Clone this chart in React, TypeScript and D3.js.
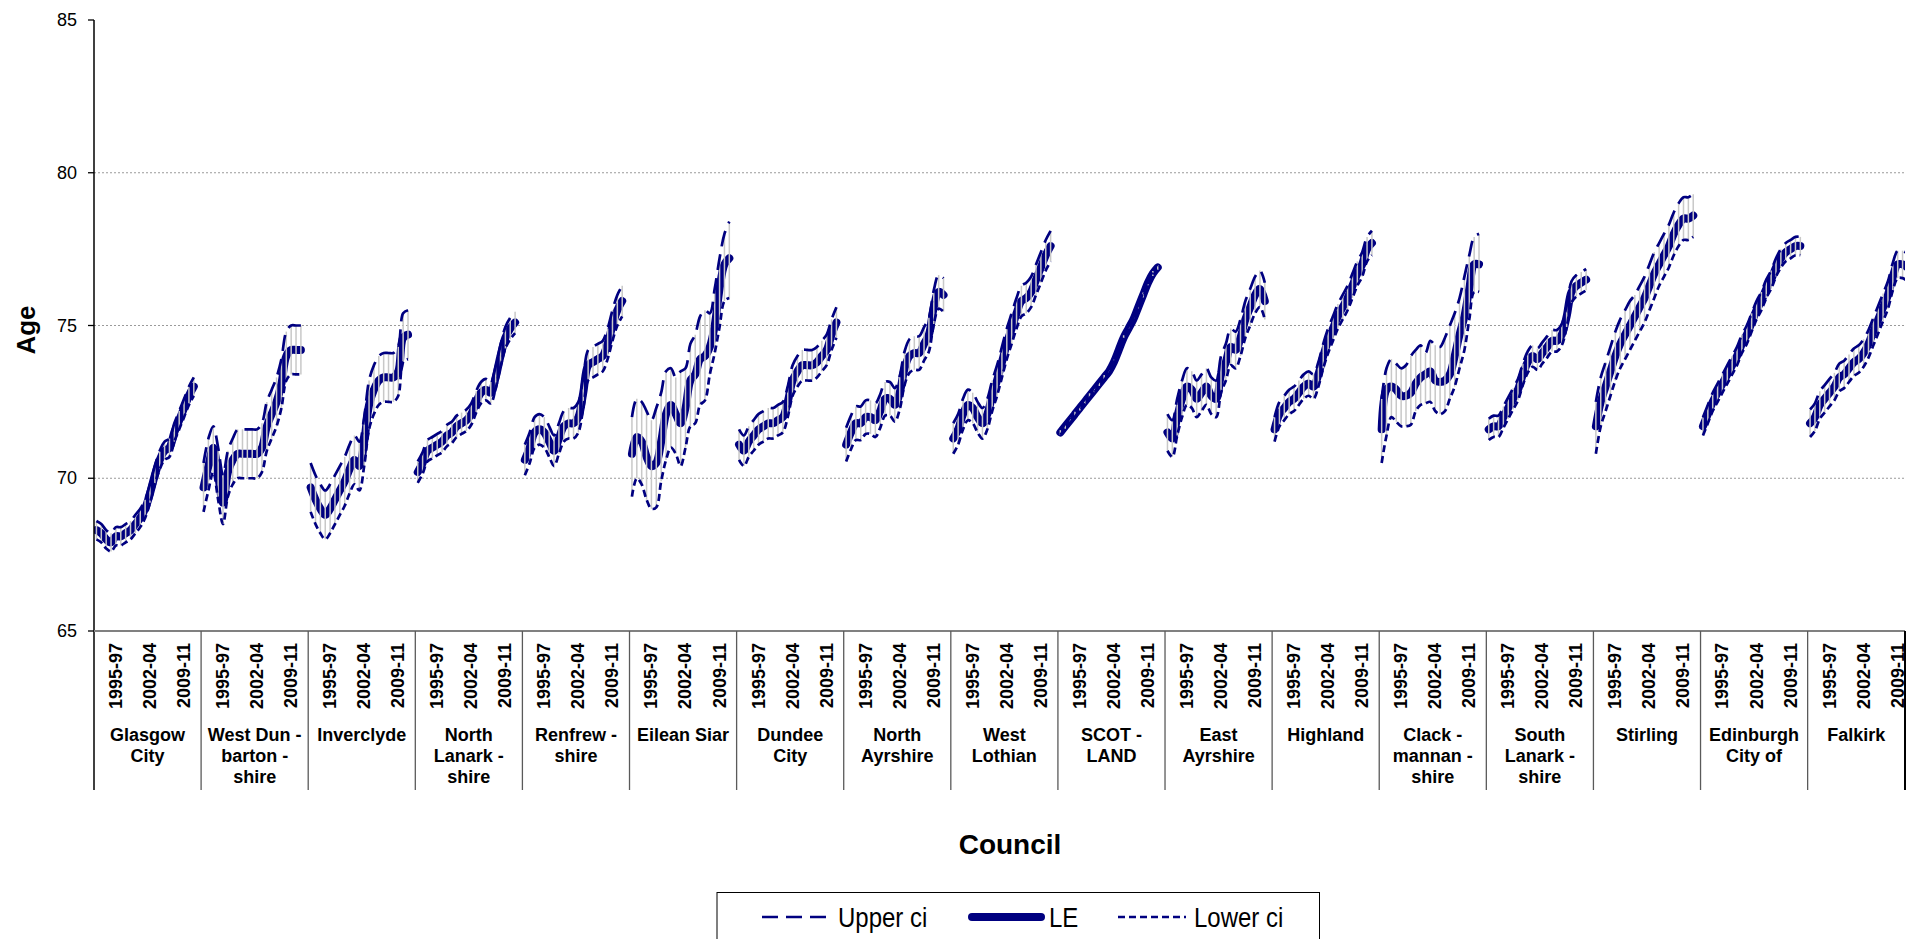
import * as d3 from "d3"

// three-year rolling periods shown for every council
const periods = [
  "1991-93", "1992-94", "1993-95", "1994-96", "1995-97", "1996-98", "1997-99",
  "1998-00", "1999-01", "2000-02", "2001-03", "2002-04", "2003-05", "2004-06",
  "2005-07", "2006-08", "2007-09", "2008-10", "2009-11", "2010-12", "2011-13",
]
const tickPeriods = ["1995-97", "2002-04", "2009-11"]
const yTicks = [65, 70, 75, 80, 85]

const leGlasgow = [68.3, 68.2, 68.0, 67.9, 68.1, 68.1, 68.2, 68.3, 68.5, 68.7, 69.0, 69.5, 70.1, 70.6, 70.9, 71.0, 71.5, 71.9, 72.3, 72.7, 73.0]
const upGlasgow = [68.6, 68.5, 68.3, 68.2, 68.4, 68.4, 68.5, 68.6, 68.8, 69.0, 69.3, 69.8, 70.4, 70.9, 71.2, 71.3, 71.8, 72.2, 72.6, 73.0, 73.3]
const loGlasgow = [68.0, 67.9, 67.7, 67.6, 67.8, 67.8, 67.9, 68.0, 68.2, 68.4, 68.7, 69.2, 69.8, 70.3, 70.6, 70.7, 71.2, 71.6, 72.0, 72.4, 72.7]

const leWestDun = [69.7, 70.4, 71.0, 70.1, 69.2, 70.2, 70.6, 70.8, 70.8, 70.8, 70.8, 70.8, 71.0, 71.7, 72.1, 72.5, 73.1, 74.0, 74.2, 74.2, 74.2]
const upWestDun = [70.5, 71.3, 71.7, 71.0, 70.1, 70.9, 71.3, 71.6, 71.6, 71.6, 71.6, 71.6, 71.8, 72.5, 72.9, 73.3, 73.9, 74.8, 75.0, 75.0, 75.0]
const loWestDun = [68.9, 69.6, 70.2, 69.3, 68.5, 69.4, 69.8, 70.0, 70.0, 70.0, 70.0, 70.0, 70.2, 70.9, 71.3, 71.7, 72.3, 73.2, 73.4, 73.4, 73.4]

const leInverclyde = [69.7, 69.3, 69.0, 68.8, 69.0, 69.3, 69.6, 69.9, 70.3, 70.6, 70.4, 71.2, 72.4, 72.9, 73.2, 73.3, 73.3, 73.3, 73.5, 74.6, 74.7]
const upInverclyde = [70.5, 70.1, 69.8, 69.6, 69.8, 70.1, 70.4, 70.7, 71.1, 71.4, 71.2, 72.0, 73.2, 73.7, 74.0, 74.1, 74.1, 74.1, 74.3, 75.4, 75.5]
const loInverclyde = [68.9, 68.5, 68.2, 68.0, 68.2, 68.5, 68.8, 69.1, 69.5, 69.8, 69.6, 70.4, 71.6, 72.1, 72.4, 72.5, 72.5, 72.5, 72.7, 73.8, 73.9]

const leNLanark = [70.2, 70.5, 70.9, 71.0, 71.1, 71.2, 71.4, 71.5, 71.7, 71.8, 71.9, 72.1, 72.5, 72.8, 72.9, 72.8, 73.3, 74.0, 74.6, 74.9, 75.1]
const upNLanark = [70.55, 70.85, 71.25, 71.35, 71.45, 71.55, 71.75, 71.85, 72.05, 72.15, 72.25, 72.45, 72.85, 73.15, 73.25, 73.15, 73.65, 74.35, 74.95, 75.25, 75.45]
const loNLanark = [69.85, 70.15, 70.55, 70.65, 70.75, 70.85, 71.05, 71.15, 71.35, 71.45, 71.55, 71.75, 72.15, 72.45, 72.55, 72.45, 72.95, 73.65, 74.25, 74.55, 74.75]

const leRenfrew = [70.6, 71.0, 71.5, 71.6, 71.5, 71.2, 70.9, 71.3, 71.7, 71.8, 71.8, 72.0, 72.8, 73.7, 73.8, 73.9, 74.0, 74.4, 75.0, 75.5, 75.8]
const upRenfrew = [71.1, 71.5, 72.0, 72.1, 72.0, 71.7, 71.4, 71.8, 72.2, 72.3, 72.3, 72.5, 73.3, 74.2, 74.3, 74.4, 74.5, 74.9, 75.5, 76.0, 76.3]
const loRenfrew = [70.1, 70.5, 71.0, 71.1, 71.0, 70.7, 70.4, 70.8, 71.2, 71.3, 71.3, 71.5, 72.3, 73.2, 73.3, 73.4, 73.5, 73.9, 74.5, 75.0, 75.3]

const leEilean = [70.8, 71.35, 71.2, 70.7, 70.4, 70.5, 71.2, 72.1, 72.4, 72.1, 71.8, 72.3, 73.2, 73.4, 73.9, 74.0, 74.3, 75.0, 76.2, 77.0, 77.2]
const upEilean = [72.0, 72.6, 72.5, 72.2, 71.9, 72.3, 72.8, 73.5, 73.6, 73.3, 73.5, 73.6, 74.4, 74.7, 75.3, 75.5, 75.4, 76.2, 77.2, 78.0, 78.4]
const loEilean = [69.4, 70.0, 69.8, 69.3, 69.0, 69.05, 69.9, 70.6, 71.0, 70.8, 70.4, 71.0, 71.7, 71.8, 72.4, 72.55, 73.4, 74.1, 74.95, 75.8, 75.9]

const leDundee = [71.1, 70.9, 71.2, 71.4, 71.6, 71.7, 71.8, 71.8, 71.9, 72.0, 72.5, 73.2, 73.5, 73.7, 73.7, 73.7, 73.8, 74.0, 74.2, 74.7, 75.1]
const upDundee = [71.6, 71.4, 71.7, 71.9, 72.1, 72.2, 72.3, 72.3, 72.4, 72.5, 73.0, 73.7, 74.0, 74.2, 74.2, 74.2, 74.3, 74.5, 74.7, 75.2, 75.6]
const loDundee = [70.6, 70.4, 70.7, 70.9, 71.1, 71.2, 71.3, 71.3, 71.4, 71.5, 72.0, 72.7, 73.0, 73.2, 73.2, 73.2, 73.3, 73.5, 73.7, 74.2, 74.6]

const leNAyr = [71.1, 71.5, 71.8, 71.8, 72.0, 72.0, 71.9, 72.2, 72.6, 72.6, 72.4, 72.8, 73.6, 74.0, 74.1, 74.1, 74.4, 74.7, 75.6, 76.1, 76.0]
const upNAyr = [71.65, 72.05, 72.35, 72.35, 72.55, 72.55, 72.45, 72.75, 73.15, 73.15, 72.95, 73.35, 74.15, 74.55, 74.65, 74.65, 74.95, 75.25, 76.15, 76.65, 76.55]
const loNAyr = [70.55, 70.95, 71.25, 71.25, 71.45, 71.45, 71.35, 71.65, 72.05, 72.05, 71.85, 72.25, 73.05, 73.45, 73.55, 73.55, 73.85, 74.15, 75.05, 75.55, 75.45]

const leWLothian = [71.3, 71.6, 72.1, 72.4, 72.3, 72.0, 71.8, 72.1, 72.7, 73.2, 73.8, 74.4, 74.9, 75.4, 75.8, 75.9, 76.1, 76.5, 76.9, 77.3, 77.6]
const upWLothian = [71.8, 72.1, 72.6, 72.9, 72.8, 72.5, 72.3, 72.6, 73.2, 73.7, 74.3, 74.9, 75.4, 75.9, 76.3, 76.4, 76.6, 77.0, 77.4, 77.8, 78.1]
const loWLothian = [70.8, 71.1, 71.6, 71.9, 71.8, 71.5, 71.3, 71.6, 72.2, 72.7, 73.3, 73.9, 74.4, 74.9, 75.3, 75.4, 75.6, 76.0, 76.4, 76.8, 77.1]

const leScotland = [71.5, 71.7, 71.9, 72.1, 72.3, 72.5, 72.7, 72.9, 73.1, 73.3, 73.5, 73.8, 74.2, 74.6, 74.9, 75.2, 75.6, 76.0, 76.4, 76.7, 76.9]
const upScotland = [71.58, 71.78, 71.98, 72.18, 72.38, 72.58, 72.78, 72.98, 73.18, 73.38, 73.58, 73.88, 74.28, 74.68, 74.98, 75.28, 75.68, 76.08, 76.48, 76.78, 76.98]
const loScotland = [71.42, 71.62, 71.82, 72.02, 72.22, 72.42, 72.62, 72.82, 73.02, 73.22, 73.42, 73.72, 74.12, 74.52, 74.82, 75.12, 75.52, 75.92, 76.32, 76.62, 76.82]

const leEAyr = [71.5, 71.3, 72.0, 72.6, 73.0, 72.9, 72.6, 72.8, 73.0, 72.7, 72.6, 73.4, 73.8, 74.3, 74.2, 74.6, 75.2, 75.6, 76.0, 76.2, 75.8]
const upEAyr = [72.1, 71.9, 72.6, 73.2, 73.6, 73.5, 73.2, 73.4, 73.6, 73.3, 73.2, 74.0, 74.4, 74.9, 74.8, 75.2, 75.8, 76.2, 76.6, 76.8, 76.4]
const loEAyr = [70.9, 70.7, 71.4, 72.0, 72.4, 72.3, 72.0, 72.2, 72.4, 72.1, 72.0, 72.8, 73.2, 73.7, 73.6, 74.0, 74.6, 75.0, 75.4, 75.6, 75.2]

const leHighland = [71.6, 72.1, 72.3, 72.5, 72.6, 72.8, 73.0, 73.1, 73.0, 73.4, 74.0, 74.5, 74.9, 75.3, 75.6, 75.9, 76.3, 76.7, 77.0, 77.5, 77.7]
const upHighland = [72.0, 72.5, 72.7, 72.9, 73.0, 73.2, 73.4, 73.5, 73.4, 73.8, 74.4, 74.9, 75.3, 75.7, 76.0, 76.3, 76.7, 77.1, 77.4, 77.9, 78.1]
const loHighland = [71.2, 71.7, 71.9, 72.1, 72.2, 72.4, 72.6, 72.7, 72.6, 73.0, 73.6, 74.1, 74.5, 74.9, 75.2, 75.5, 75.9, 76.3, 76.6, 77.1, 77.3]

const leClack = [71.6, 72.9, 73.0, 72.9, 72.7, 72.7, 72.8, 73.1, 73.3, 73.4, 73.5, 73.2, 73.15, 73.2, 73.4, 74.0, 74.7, 75.3, 76.2, 77.0, 77.0]
const upClack = [72.6, 73.6, 73.9, 73.75, 73.6, 73.7, 74.0, 74.2, 74.35, 74.1, 74.5, 74.35, 74.3, 74.6, 75.0, 75.4, 75.9, 76.6, 77.3, 77.9, 78.0]
const loClack = [70.5, 71.4, 72.0, 71.85, 71.7, 71.7, 71.75, 72.2, 72.4, 72.45, 72.5, 72.2, 72.1, 72.2, 72.6, 73.0, 73.6, 74.2, 75.2, 76.1, 76.1]

const leSLanark = [71.6, 71.7, 71.7, 72.0, 72.3, 72.6, 72.9, 73.4, 73.8, 74.0, 73.9, 74.1, 74.3, 74.5, 74.5, 74.7, 75.3, 76.1, 76.3, 76.4, 76.5]
const upSLanark = [71.95, 72.05, 72.05, 72.35, 72.65, 72.95, 73.25, 73.75, 74.15, 74.35, 74.25, 74.45, 74.65, 74.85, 74.85, 75.05, 75.65, 76.45, 76.65, 76.75, 76.85]
const loSLanark = [71.25, 71.35, 71.35, 71.65, 71.95, 72.25, 72.55, 73.05, 73.45, 73.65, 73.55, 73.75, 73.95, 74.15, 74.15, 74.35, 74.95, 75.75, 75.95, 76.05, 76.15]

const leStirling = [71.7, 72.5, 73.0, 73.5, 74.0, 74.4, 74.7, 75.0, 75.3, 75.6, 75.9, 76.3, 76.7, 77.0, 77.3, 77.6, 78.0, 78.3, 78.5, 78.5, 78.6]
const upStirling = [72.5, 73.3, 73.8, 74.3, 74.8, 75.2, 75.5, 75.8, 76.0, 76.3, 76.6, 77.0, 77.4, 77.7, 78.0, 78.3, 78.7, 79.0, 79.2, 79.2, 79.3]
const loStirling = [70.8, 71.7, 72.2, 72.7, 73.2, 73.6, 73.9, 74.2, 74.5, 74.8, 75.1, 75.5, 75.9, 76.3, 76.6, 76.9, 77.3, 77.6, 77.8, 77.8, 77.9]

const leEdinburgh = [71.7, 72.1, 72.5, 72.8, 73.1, 73.4, 73.7, 74.0, 74.4, 74.7, 75.1, 75.5, 75.8, 76.2, 76.5, 76.9, 77.2, 77.4, 77.5, 77.6, 77.6]
const upEdinburgh = [72.0, 72.4, 72.8, 73.1, 73.4, 73.7, 74.0, 74.3, 74.7, 75.0, 75.4, 75.8, 76.1, 76.5, 76.8, 77.2, 77.5, 77.7, 77.8, 77.9, 77.9]
const loEdinburgh = [71.4, 71.8, 72.2, 72.5, 72.8, 73.1, 73.4, 73.7, 74.1, 74.4, 74.8, 75.2, 75.5, 75.9, 76.2, 76.6, 76.9, 77.1, 77.2, 77.3, 77.3]

const leFalkirk = [71.8, 72.0, 72.4, 72.6, 72.8, 73.0, 73.3, 73.4, 73.6, 73.8, 73.9, 74.1, 74.4, 74.8, 75.2, 75.6, 76.0, 76.6, 77.0, 77.0, 76.9]
const upFalkirk = [72.25, 72.45, 72.85, 73.05, 73.25, 73.45, 73.75, 73.85, 74.05, 74.25, 74.35, 74.55, 74.85, 75.25, 75.65, 76.05, 76.45, 77.05, 77.45, 77.45, 77.35]
const loFalkirk = [71.35, 71.55, 71.95, 72.15, 72.35, 72.55, 72.85, 72.95, 73.15, 73.35, 73.45, 73.65, 73.95, 74.35, 74.75, 75.15, 75.55, 76.15, 76.55, 76.55, 76.45]

const councils = [
  { label: ["Glasgow", "City"], le: leGlasgow, upper: upGlasgow, lower: loGlasgow },
  { label: ["West Dun -", "barton -", "shire"], le: leWestDun, upper: upWestDun, lower: loWestDun },
  { label: ["Inverclyde"], le: leInverclyde, upper: upInverclyde, lower: loInverclyde },
  { label: ["North", "Lanark -", "shire"], le: leNLanark, upper: upNLanark, lower: loNLanark },
  { label: ["Renfrew -", "shire"], le: leRenfrew, upper: upRenfrew, lower: loRenfrew },
  { label: ["Eilean Siar"], le: leEilean, upper: upEilean, lower: loEilean },
  { label: ["Dundee", "City"], le: leDundee, upper: upDundee, lower: loDundee },
  { label: ["North", "Ayrshire"], le: leNAyr, upper: upNAyr, lower: loNAyr },
  { label: ["West", "Lothian"], le: leWLothian, upper: upWLothian, lower: loWLothian },
  { label: ["SCOT -", "LAND"], le: leScotland, upper: upScotland, lower: loScotland },
  { label: ["East", "Ayrshire"], le: leEAyr, upper: upEAyr, lower: loEAyr },
  { label: ["Highland"], le: leHighland, upper: upHighland, lower: loHighland },
  { label: ["Clack -", "mannan -", "shire"], le: leClack, upper: upClack, lower: loClack },
  { label: ["South", "Lanark -", "shire"], le: leSLanark, upper: upSLanark, lower: loSLanark },
  { label: ["Stirling"], le: leStirling, upper: upStirling, lower: loStirling },
  { label: ["Edinburgh", "City of"], le: leEdinburgh, upper: upEdinburgh, lower: loEdinburgh },
  { label: ["Falkirk"], le: leFalkirk, upper: upFalkirk, lower: loFalkirk },
]

const navy = "#000080"
const font = "'Liberation Sans', Arial, sans-serif"

export default function App() {
  const width = 1907
  const height = 939
  const left = 94
  const right = 1905
  const top = 20
  const bottom = 631

  // one band per period plus one empty band after each council
  const keys = councils.flatMap((c, ci) => [...periods.map((p) => `${ci}|${p}`), `${ci}|gap`])
  const band = (right - left) / (keys.length - 2)
  const x = d3.scaleBand<string>().domain(keys).range([left, left + band * keys.length])
  const y = d3.scaleLinear().domain([65, 85]).range([bottom, top])
  const cx = (ci: number, p: string) => (x(`${ci}|${p}`) ?? 0) + x.bandwidth() / 2

  const makeLine = (ci: number) =>
    d3
      .line<number>()
      .x((_, i) => cx(ci, periods[i]))
      .y((d) => y(d))
      .curve(d3.curveCatmullRom.alpha(0.5))

  return (
    <div style={{ position: "absolute", left: 0, top: 0 }}>
      <svg width={width} height={height} style={{ display: "block", background: "#fff" }} fontFamily={font}>
        <defs>
          <clipPath id="plot">
            <rect x={left} y={0} width={right - left} height={bottom} />
          </clipPath>
          <clipPath id="axis">
            <rect x={0} y={bottom} width={right} height={200} />
          </clipPath>
        </defs>

        {/* gridlines */}
        {yTicks
          .filter((t) => t > 65 && t < 85)
          .map((t) => (
            <line key={t} x1={left} x2={right} y1={y(t)} y2={y(t)} stroke="#9a9a9a" strokeWidth={1} strokeDasharray="2,2" />
          ))}

        {/* series */}
        <g clipPath="url(#plot)">
          {councils.map((c, ci) => {
            const line = makeLine(ci)
            return (
              <g key={ci}>
                <path d={line(c.le) ?? undefined} fill="none" stroke={navy} strokeWidth={8} strokeLinejoin="round" strokeLinecap="round" />
                {c.le.map((_, i) => (
                  <line
                    key={i}
                    x1={cx(ci, periods[i])}
                    x2={cx(ci, periods[i])}
                    y1={y(c.upper[i])}
                    y2={y(c.lower[i])}
                    stroke="#c8c8c8"
                    strokeWidth={1.5}
                  />
                ))}
                <path d={line(c.upper) ?? undefined} fill="none" stroke={navy} strokeWidth={2.7} strokeDasharray="16,8" />
                <path d={line(c.lower) ?? undefined} fill="none" stroke={navy} strokeWidth={2.7} strokeDasharray="7,4" />
              </g>
            )
          })}
        </g>

        {/* y axis */}
        <line x1={left} x2={left} y1={top} y2={790} stroke="#000" strokeWidth={1.5} />
        {yTicks.map((t) => (
          <g key={t} transform={`translate(0,${y(t)})`}>
            <line x1={left - 6} x2={left} stroke="#000" strokeWidth={1.3} />
            <text x={77} textAnchor="end" dominantBaseline="central" fontSize={18} fill="#000">
              {t}
            </text>
          </g>
        ))}

        {/* x axis: periods and councils */}
        <line x1={left} x2={right} y1={bottom} y2={bottom} stroke="#808080" strokeWidth={2} />
        <g clipPath="url(#axis)">
          {councils.map((c, ci) => {
            const x0 = x(`${ci}|${periods[0]}`) ?? 0
            const x1 = Math.min((x(`${ci}|gap`) ?? 0) + x.bandwidth(), right)
            const mid = (x0 + x1) / 2
            return (
              <g key={ci}>
                {ci > 0 && <line x1={x0} x2={x0} y1={bottom} y2={790} stroke="#5a5a5a" strokeWidth={1.3} />}
                {tickPeriods.map((p) => (
                  <text
                    key={p}
                    transform={`translate(${cx(ci, p)},643) rotate(-90)`}
                    textAnchor="end"
                    dominantBaseline="central"
                    fontSize={18}
                    fontWeight="bold"
                  >
                    {p}
                  </text>
                ))}
                {c.label.map((s, li) => (
                  <text key={li} x={mid} y={741 + li * 21} textAnchor="middle" fontSize={18} fontWeight="bold">
                    {s}
                  </text>
                ))}
              </g>
            )
          })}
        </g>
        <line x1={right} x2={right} y1={bottom} y2={790} stroke="#000" strokeWidth={2} />

        {/* axis titles */}
        <text transform="translate(35,330) rotate(-90)" textAnchor="middle" fontSize={26} fontWeight="bold">
          Age
        </text>
        <text x={1010} y={854} textAnchor="middle" fontSize={28} fontWeight="bold">
          Council
        </text>

        {/* legend */}
        <rect x={717} y={892.5} width={602.5} height={80} fill="#fff" stroke="#000" strokeWidth={1} />
        <line x1={762} x2={829} y1={917} y2={917} stroke={navy} strokeWidth={2.7} strokeDasharray="16,8" />
        <text transform="translate(838,926.5) scale(1,1.15)" fontSize={24}>
          Upper ci
        </text>
        <line x1={972} x2={1041} y1={917} y2={917} stroke={navy} strokeWidth={8} strokeLinecap="round" />
        <text transform="translate(1049,926.5) scale(1,1.15)" fontSize={24}>
          LE
        </text>
        <line x1={1118} x2={1186} y1={917} y2={917} stroke={navy} strokeWidth={2.7} strokeDasharray="7,4" />
        <text transform="translate(1194,926.5) scale(1,1.15)" fontSize={24}>
          Lower ci
        </text>
      </svg>
    </div>
  )
}
